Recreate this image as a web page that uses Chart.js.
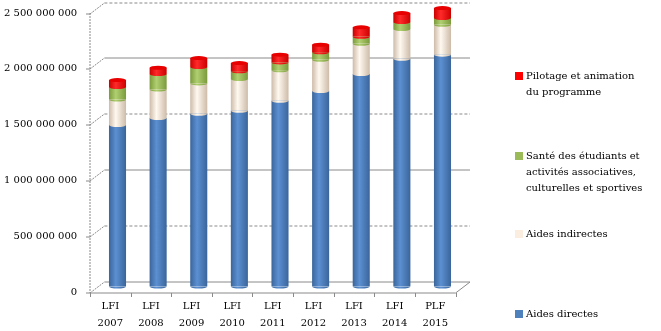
<!DOCTYPE html>
<html>
<head>
<meta charset="utf-8">
<script src="https://cdn.jsdelivr.net/npm/chart.js@4.4.0/dist/chart.umd.min.js"></script>
<style>
  html, body { margin: 0; padding: 0; background: #fff; }
  #wrap { position: relative; width: 661px; height: 331px; overflow: hidden; }
  #legend { position: absolute; left: 515px; top: 0; font: 10px 'DejaVu Serif', serif; color: #000; }
  #legend .item { position: absolute; left: 0; white-space: pre; line-height: 16.3px; padding-left: 11px; }
  #legend .box { position: absolute; left: 0; top: 4px; width: 8px; height: 8px; }
</style>
</head>
<body>
<div id="wrap">
  <canvas id="chart" width="661" height="331"></canvas>
  <div id="legend"></div>
</div>
<script>
// Budget par action, en euros
const categories = [['LFI', '2007'], ['LFI', '2008'], ['LFI', '2009'], ['LFI', '2010'], ['LFI', '2011'],
                    ['LFI', '2012'], ['LFI', '2013'], ['LFI', '2014'], ['PLF', '2015']];
const aidesDirectes   = [1447000000, 1509000000, 1548000000, 1575000000, 1664000000, 1751000000, 1904000000, 2041000000, 2077000000];
const aidesIndirectes = [228000000, 256000000, 272000000, 284000000, 273000000, 281000000, 271000000, 266000000, 268000000];
const sante           = [112000000, 139000000, 146000000, 69000000, 71000000, 66000000, 63000000, 62000000, 60000000];
const pilotage        = [63000000, 56000000, 81000000, 74000000, 69000000, 68000000, 84000000, 81000000, 90000000];
const seriesNames = ['Aides directes', 'Aides indirectes',
                     'Santé des étudiants et\nactivités associatives,\nculturelles et sportives',
                     'Pilotage et animation\ndu programme'];
const yTickLabels = ['0', '500 000 000', '1 000 000 000', '1 500 000 000', '2 000 000 000', '2 500 000 000'];

const BAR_SHARE = 0.42;

// horizontal gradient to fake the cylinder shading
function cylinder(base, dark, light) {
    return (c) => {
        const xs = c.chart.scales.x;
        if (!xs || c.dataIndex === undefined) return base;
        const cx = xs.getPixelForValue(c.dataIndex);
        const half = xs.width / categories.length * BAR_SHARE / 2;
        if (!isFinite(cx) || !isFinite(half) || half <= 0) return base;
        const g = c.chart.ctx.createLinearGradient(cx - half, 0, cx + half, 0);
        g.addColorStop(0, dark);
        g.addColorStop(0.4, light);
        g.addColorStop(1, dark);
        return g;
    };
}

const palette = [
    { base: '#4F81BD', dark: '#3A659A', light: '#5C90D2' },
    { base: '#FBEEE0', dark: '#CDBBA8', light: '#FFF9F0' },
    { base: '#9BBB59', dark: '#7A9A3C', light: '#B0CF70' },
    { base: '#FF0000', dark: '#CC0000', light: '#FF2A2A' }
];

// back wall, floor and depth lines of the 3D frame
const frame3d = {
    id: 'frame3d',
    beforeDatasetsDraw(chart) {
        const { ctx, chartArea: a, scales: { y } } = chart;
        const dx = 7.2, dy = 5.5;
        const line = (x1, y1, x2, y2) => {
            ctx.beginPath();
            ctx.moveTo(x1, y1);
            ctx.lineTo(x2, y2);
            ctx.stroke();
        };
        ctx.save();
        ctx.strokeStyle = '#8a8a8a';
        ctx.lineWidth = 1;
        y.ticks.forEach((t, i) => {
            const py = Math.round(y.getPixelForValue(t.value)) + 0.5;
            ctx.setLineDash(i % 2 ? [3, 2] : []);
            line(a.left + dx, py - dy, a.right + dx, py - dy);
            ctx.setLineDash([2, 1]);
            line(a.left - dx, py + dy, a.left + dx, py - dy);
            ctx.setLineDash([]);
            line(a.left - dx - 4, py + dy, a.left - dx, py + dy);
        });
        const y0 = Math.round(y.getPixelForValue(0)) + 0.5;
        const yTop = y.getPixelForValue(y.max);
        ctx.setLineDash([2, 1]);
        line(a.left - dx, yTop + dy, a.left - dx, y0 + dy);
        ctx.setLineDash([]);
        line(a.left - dx, y0 + dy, a.right - dx, y0 + dy);
        line(a.right - dx, y0 + dy, a.right + dx, y0 - dy);
        const step = (a.right - a.left) / categories.length;
        for (let k = 0; k <= categories.length; k++) {
            const px = Math.round(a.left - dx + k * step) + 0.5;
            line(px, y0 + dy, px, y0 + dy + 4);
        }
        ctx.restore();
    }
};

// elliptic edges so the stacked bars read as cylinders
const cylinderEdges = {
    id: 'cylinderEdges',
    afterDatasetsDraw(chart) {
        const ctx = chart.ctx;
        const ry = 2;
        const last = chart.data.datasets.length - 1;
        ctx.save();
        chart.data.datasets.forEach((ds, i) => {
            chart.getDatasetMeta(i).data.forEach((el) => {
                const rx = el.width / 2;
                ctx.fillStyle = el.options.backgroundColor;
                ctx.beginPath();
                ctx.ellipse(el.x, el.base, rx, ry, 0, 0, Math.PI);
                ctx.fill();
                if (i === last) {
                    ctx.fillStyle = '#E80000';
                    ctx.beginPath();
                    ctx.ellipse(el.x, el.y, rx, ry, 0, 0, Math.PI * 2);
                    ctx.fill();
                }
            });
        });
        ctx.restore();
    }
};

const seriesData = [aidesDirectes, aidesIndirectes, sante, pilotage];

const chart = new Chart(document.getElementById('chart'), {
    type: 'bar',
    data: {
        labels: categories,
        datasets: seriesData.map((d, i) => ({
            label: seriesNames[i],
            data: d,
            backgroundColor: cylinder(palette[i].base, palette[i].dark, palette[i].light),
            borderWidth: 0,
            barPercentage: BAR_SHARE,
            categoryPercentage: 1
        }))
    },
    options: {
        responsive: false,
        animation: false,
        layout: { padding: { top: 7.5, right: 198.2, left: 0, bottom: 0 } },
        plugins: {
            legend: { display: false },
            tooltip: { enabled: false }
        },
        scales: {
            x: {
                stacked: true,
                grid: { display: false, drawTicks: false },
                border: { display: false },
                afterFit: (s) => { s.height = 44.5; s.paddingLeft = 0; s.paddingRight = 0; },
                ticks: {
                    color: '#000',
                    font: { family: 'DejaVu Serif', size: 10, lineHeight: 1.63 },
                    padding: 12,
                    labelOffset: -7.2,
                    maxRotation: 0,
                    autoSkip: false
                }
            },
            y: {
                stacked: true,
                min: 0,
                max: 2500000000,
                grid: { display: false, drawTicks: false },
                border: { display: false },
                afterFit: (s) => { s.width = 97.2; s.paddingTop = 0; s.paddingBottom = 0; },
                ticks: {
                    stepSize: 500000000,
                    color: '#000',
                    font: { family: 'DejaVu Serif', size: 10 },
                    padding: 20,
                    labelOffset: 5.5,
                    callback: (v, i) => yTickLabels[i]
                }
            }
        }
    },
    plugins: [frame3d, cylinderEdges]
});

// legend on the right, last series on top
const legend = document.getElementById('legend');
const legendTops = [306, 226, 147.5, 67.5];
chart.data.datasets.forEach((ds, i) => {
    const item = document.createElement('div');
    item.className = 'item';
    item.style.top = legendTops[i] + 'px';
    const box = document.createElement('span');
    box.className = 'box';
    box.style.background = palette[i].base;
    item.appendChild(box);
    item.appendChild(document.createTextNode(ds.label));
    legend.appendChild(item);
});
</script>
</body>
</html>
